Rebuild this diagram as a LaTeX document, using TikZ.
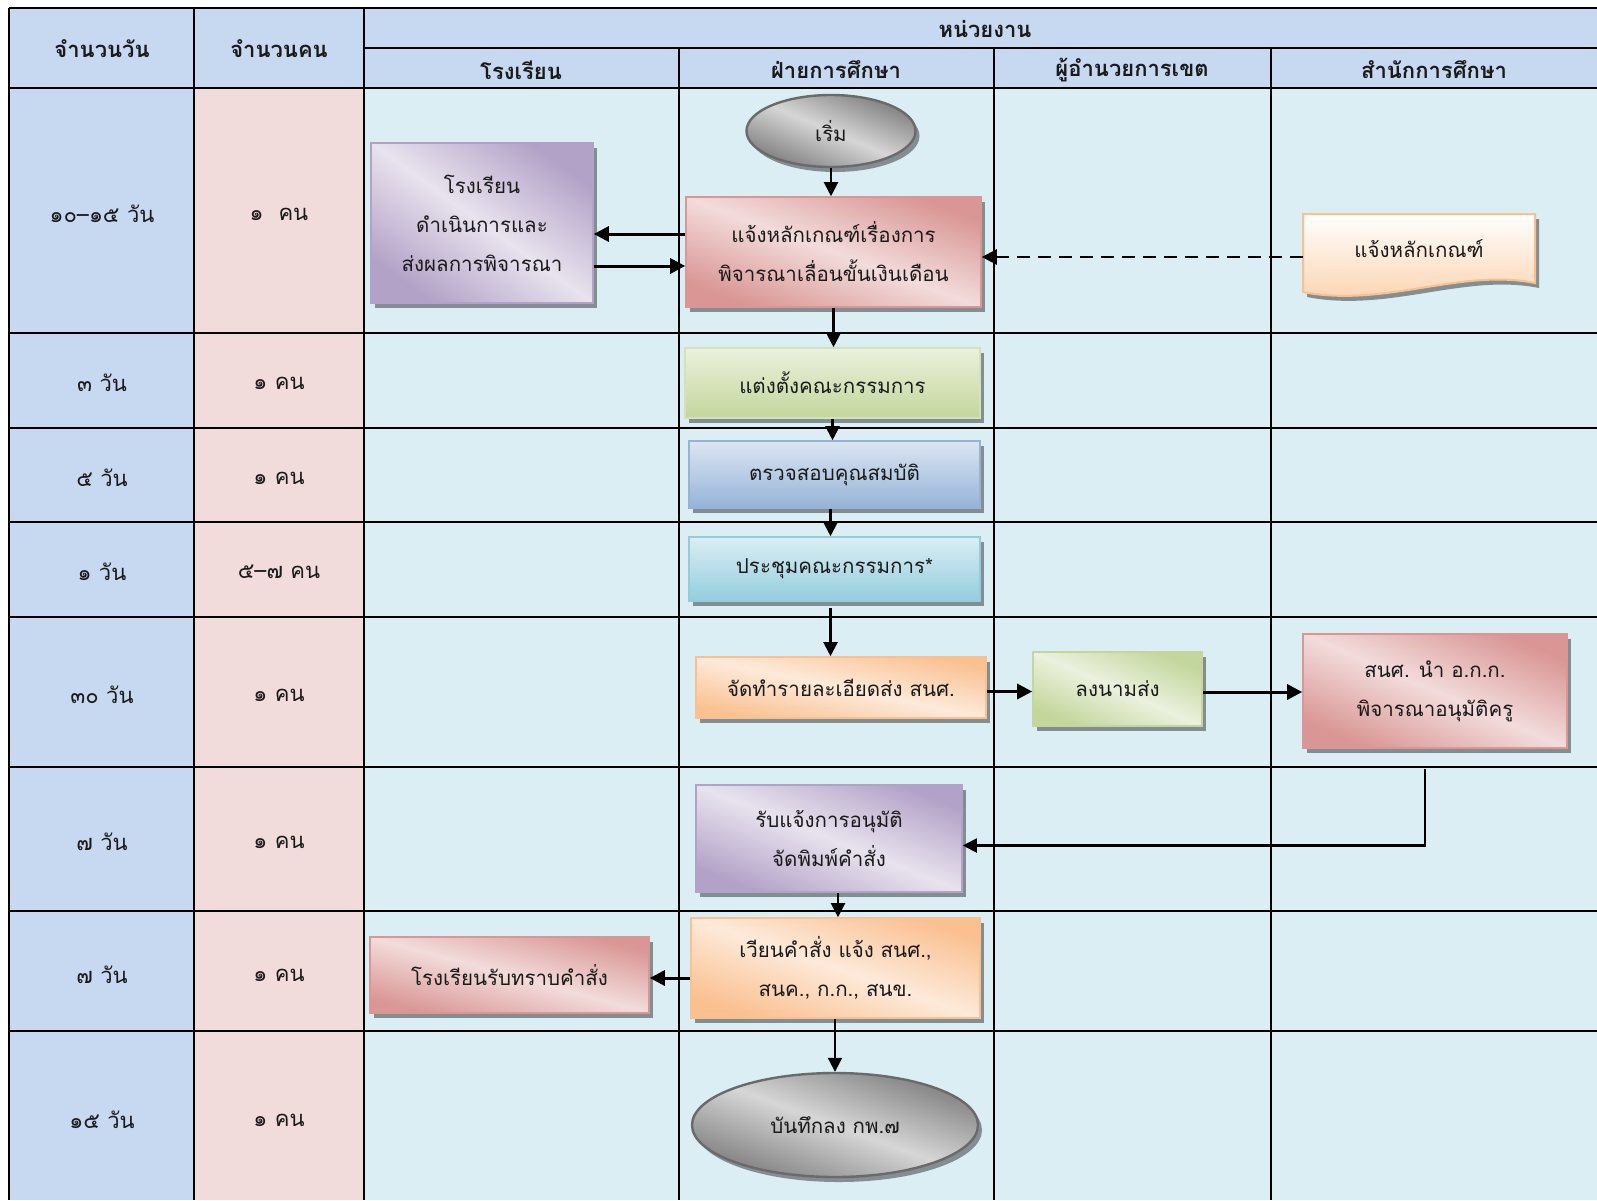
\documentclass[tikz,border=0pt]{standalone}
\usepackage{fontspec}
\newfontfamily\thai[Script=Thai]{Loma}
\usetikzlibrary{arrows.meta,shadows,calc,shapes.geometric}
\definecolor{hdr}{HTML}{C6D9F1}
\definecolor{pinkcol}{HTML}{F2DCDB}
\definecolor{aqua}{HTML}{DAEEF3}
\definecolor{purD}{HTML}{B3A2C7}\definecolor{purL}{HTML}{E8E3EE}
\definecolor{redD}{HTML}{D99694}\definecolor{redL}{HTML}{F2DCDB}
\definecolor{grnD}{HTML}{C3D69B}\definecolor{grnL}{HTML}{EBF1DE}
\definecolor{bluD}{HTML}{95B3D7}\definecolor{bluL}{HTML}{DCE6F2}
\definecolor{cyaD}{HTML}{93CDDD}\definecolor{cyaL}{HTML}{DBEEF4}
\definecolor{orgD}{HTML}{FAC090}\definecolor{orgL}{HTML}{FDEADA}
\definecolor{gryD}{HTML}{7F7F7F}\definecolor{gryL}{HTML}{D6D6D6}
\definecolor{gryB}{HTML}{6A6A6A}
\definecolor{docB}{HTML}{FBD0AA}
\definecolor{ink}{HTML}{1A1A1A}
\pgfdeclarehorizontalshading{shpur}{100bp}{color(0bp)=(purD); color(25bp)=(purD); color(50bp)=(purL); color(75bp)=(purD); color(100bp)=(purD)}
\pgfdeclarehorizontalshading{shred}{100bp}{color(0bp)=(redD); color(25bp)=(redD); color(50bp)=(redL); color(75bp)=(redD); color(100bp)=(redD)}
\pgfdeclarehorizontalshading{shgrn}{100bp}{color(0bp)=(grnD); color(25bp)=(grnD); color(50bp)=(grnL); color(75bp)=(grnD); color(100bp)=(grnD)}
\pgfdeclarehorizontalshading{shorg}{100bp}{color(0bp)=(orgD); color(25bp)=(orgD); color(50bp)=(orgL); color(75bp)=(orgD); color(100bp)=(orgD)}
\pgfdeclarehorizontalshading{shgry}{100bp}{color(0bp)=(gryD); color(25bp)=(gryD); color(50bp)=(gryL); color(75bp)=(gryD); color(100bp)=(gryD)}
\begin{document}
\begin{tikzpicture}[x=1pt,y=-1pt,
  grid/.style={line width=2.2pt, black},
  lbl/.style={font=\thai\fontsize{22}{26}\selectfont, text=ink, inner sep=0pt},
  hd/.style={font=\thai\bfseries\fontsize{22}{26}\selectfont, text=ink, inner sep=0pt},
  shad/.style={drop shadow={shadow xshift=4pt, shadow yshift=-5pt, fill=black, opacity=.4}},
  box/.style={rectangle, inner sep=2pt, align=center, shad,
    font=\thai\fontsize{20.5}{39}\selectfont, text=ink, line width=1.6pt},
  purbox/.style={box, draw=purD, shading=shpur},
  redbox/.style={box, draw=redD, shading=shred},
  orgbox/.style={box, draw=orgD, shading=shorg},
  grnbox/.style={box, draw=grnD, shading=shgrn},
  grnvbox/.style={box, draw=grnD!70, top color=grnL, bottom color=grnD},
  blubox/.style={box, draw=bluD, top color=bluL, bottom color=bluD},
  cyabox/.style={box, draw=cyaD, top color=cyaL, bottom color=cyaD},
  oval/.style={ellipse, inner sep=0pt, shad, draw=gryB, line width=2.4pt,
    shading=shgry, font=\thai\fontsize{20.5}{24}\selectfont, text=ink},
  arr/.style={line width=2.1pt, -{Triangle[length=14pt,width=14pt]}},
  bigarr/.style={line width=3pt, -{Triangle[length=15pt,width=15pt]}},
  dasharr/.style={line width=2.8pt, dash pattern=on 13pt off 8pt, -{Triangle[length=15pt,width=15pt]}}
]
\useasboundingbox (0,0) rectangle (1597,1200);
\fill[white] (0,0) rectangle (1597,1200);
% fills
\fill[hdr] (9,8) rectangle (1597,88);
\fill[hdr] (9,88) rectangle (194,1200);
\fill[pinkcol] (194,88) rectangle (364,1200);
\fill[aqua] (364,88) rectangle (1597,1200);
% grid
\draw[grid] (9,8) -- (1597,8);
\draw[grid] (364,48) -- (1597,48);
\foreach \yy in {88,333,428,522,617,767,911,1031}
  \draw[grid] (9,\yy) -- (1597,\yy);
\foreach \xx in {9,194,364}
  \draw[grid] (\xx,8) -- (\xx,1200);
\foreach \xx in {679,994,1271}
  \draw[grid] (\xx,48) -- (\xx,1200);
% headers
\node[hd] (h1) at (102,49) {จำนวนวัน};
\node[hd] (h2) at (279,49) {จำนวนคน};
\node[hd] (h3) at (985,29) {หน่วยงาน};
\node[hd] (h4) at (521,70) {โรงเรียน};
\node[hd] (h5) at (836,70) {ฝ่ายการศึกษา};
\node[hd] (h6) at (1132,70) {ผู้อำนวยการเขต};
\node[hd] (h7) at (1434,70) {สำนักการศึกษา};
% left columns
\node[lbl] (d1) at (102,214) {๑๐–๑๕ วัน};
\node[lbl] (d2) at (102,383) {๓ วัน};
\node[lbl] (d3) at (102,478) {๕ วัน};
\node[lbl] (d4) at (102,572) {๑ วัน};
\node[lbl] (d5) at (102,695) {๓๐ วัน};
\node[lbl] (d6) at (102,842) {๗ วัน};
\node[lbl] (d7) at (102,975) {๗ วัน};
\node[lbl] (d8) at (102,1120) {๑๕ วัน};
\node[lbl] (p1) at (279,214) {๑\ \ คน};
\node[lbl] (p2) at (279,383) {๑ คน};
\node[lbl] (p3) at (279,478) {๑ คน};
\node[lbl] (p4) at (279,572) {๕–๗ คน};
\node[lbl] (p5) at (279,695) {๑ คน};
\node[lbl] (p6) at (279,842) {๑ คน};
\node[lbl] (p7) at (279,975) {๑ คน};
\node[lbl] (p8) at (279,1120) {๑ คน};
% document shape
\path[draw=orgD, line width=2pt, top color=white, bottom color=docB, shad]
  (1303,214) -- (1535,214) -- (1535,283)
  .. controls (1460,268) and (1385,308) .. (1303,292) -- cycle;
\node[font=\thai\fontsize{20.5}{24}\selectfont, text=ink, inner sep=0pt,
  minimum width=232pt, minimum height=70pt] (doc) at (1419,249) {แจ้งหลักเกณฑ์};
% process nodes
\node[oval, shading angle=66.9, minimum width=169pt, minimum height=72pt] (start) at (831,131) {เริ่ม};
\node[redbox, shading angle=69.6, minimum width=295pt, minimum height=110pt] (box1) at (833.5,252) {แจ้งหลักเกณฑ์เรื่องการ\\พิจารณาเลื่อนขั้นเงินเดือน};
\node[purbox, shading angle=54.2, minimum width=222pt, minimum height=160pt] (school) at (482,223) {โรงเรียน\\ดำเนินการและ\\ส่งผลการพิจารณา};
\node[grnvbox, minimum width=295pt, minimum height=70pt] (appoint) at (832.5,383) {แต่งตั้งคณะกรรมการ};
\node[blubox, minimum width=291pt, minimum height=67pt] (check) at (834.5,474.5) {ตรวจสอบคุณสมบัติ};
\node[cyabox, minimum width=291pt, minimum height=64pt] (meet) at (834.5,569) {ประชุมคณะกรรมการ*};
\node[orgbox, shading angle=78.1, minimum width=290pt, minimum height=61pt] (prep) at (841,687.5) {จัดทำรายละเอียดส่ง สนศ.};
\node[grnbox, shading angle=66.3, minimum width=169pt, minimum height=74pt] (sign) at (1117.5,689) {ลงนามส่ง};
\node[redbox, shading angle=66.6, minimum width=264pt, minimum height=114pt] (snsh) at (1435,691) {สนศ. นำ อ.ก.ก.\\พิจารณาอนุมัติครู};
\node[purbox, shading angle=68.1, minimum width=266pt, minimum height=107pt] (rub) at (829,838.5) {รับแจ้งการอนุมัติ\\จัดพิมพ์คำสั่ง};
\node[orgbox, shading angle=70.9, minimum width=289pt, minimum height=100pt] (wian) at (835.5,968) {เวียนคำสั่ง แจ้ง สนศ.,\\สนค., ก.ก., สนข.};
\node[redbox, shading angle=74.8, minimum width=279pt, minimum height=76pt] (rr) at (509.5,975) {โรงเรียนรับทราบคำสั่ง};
\node[oval, shading angle=70, minimum width=286pt, minimum height=104pt] (fin) at (835,1125) {บันทึกลง กพ.๗};
% connectors
\draw[arr] (start.south) -- (start.south |- box1.north);
\draw[bigarr] ($(box1.west)+(0,-18)$) coordinate (a1) -- (a1 -| school.east);
\draw[bigarr] ($(school.east)+(0,43)$) coordinate (a2) -- (a2 -| box1.west);
\draw[dasharr] ($(doc.west)+(0,8)$) coordinate (a3) -- (a3 -| box1.east);
\draw[arr] (box1.south) -- (box1.south |- appoint.north);
\draw[arr] (appoint.south) -- (appoint.south |- check.north);
\draw[arr] ($(check.south)+(-4,0)$) coordinate (a4) -- (a4 |- meet.north);
\draw[arr] ($(meet.south)+(-4,6)$) coordinate (a5) -- (a5 |- prep.north);
\draw[bigarr] ($(prep.east)+(0,4)$) coordinate (a6) -- (a6 -| sign.west);
\draw[bigarr] ($(sign.east)+(0,3)$) coordinate (a7) -- (a7 -| snsh.west);
\draw[arr] ($(snsh.south)+(-10,20)$) |- ($(rub.east)+(0,7)$);
\draw[arr] ($(rub.south)+(9,0)$) coordinate (a8) -- (a8 |- wian.north);
\draw[bigarr] ($(wian.west)+(0,10)$) coordinate (a9) -- (a9 -| rr.east);
\draw[arr] (wian.south -| fin.north) -- (fin.north);
\end{tikzpicture}
\end{document}
